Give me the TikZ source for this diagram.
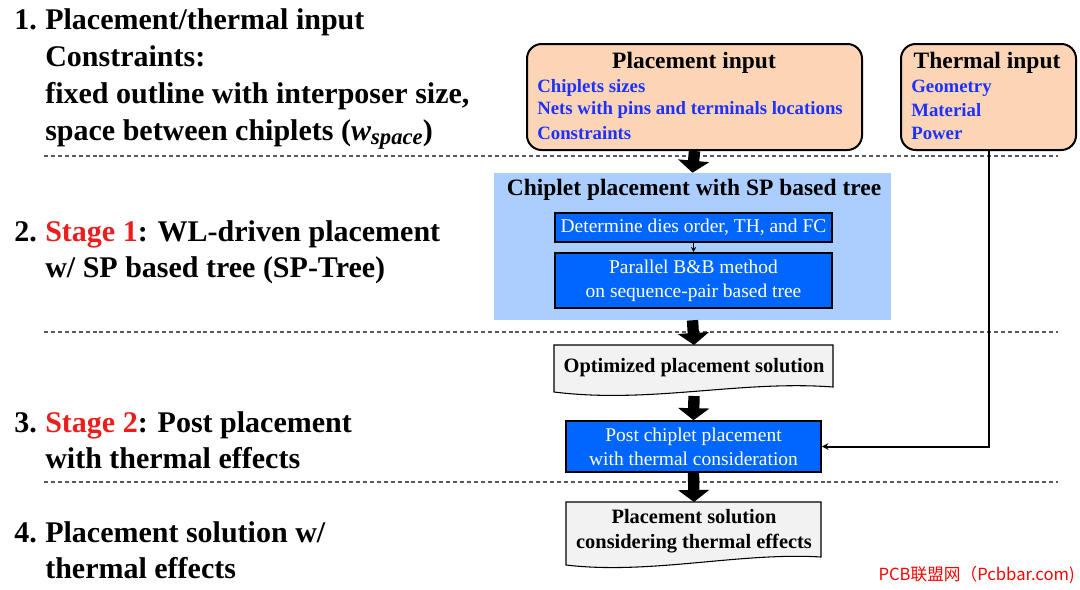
\documentclass[tikz,border=0pt]{standalone}
\usepackage{fontspec}
\setmainfont{Liberation Serif}
\newfontfamily\cjk{Noto Sans CJK SC}
\usetikzlibrary{arrows.meta}
\definecolor{peach}{RGB}{251,213,181}
\definecolor{spbg}{RGB}{172,206,255}
\definecolor{boxblue}{RGB}{0,102,255}
\definecolor{itemblue}{RGB}{30,50,255}
\definecolor{stagered}{RGB}{235,30,30}
\definecolor{docgray}{RGB}{242,242,242}
\definecolor{dashgray}{RGB}{90,90,90}
\begin{document}
\begin{tikzpicture}[x=0.75pt,y=-0.75pt,
  lefttext/.style={anchor=base west,inner sep=0pt,font=\fontsize{22.5}{27}\selectfont\bfseries},
  inputbox/.style={draw=black,line width=1.5pt,fill=peach,rounded corners=11pt,minimum height=79.5pt},
  inputtitle/.style={inner sep=0pt,font=\fontsize{17.6}{21}\selectfont\bfseries},
  item/.style={anchor=west,inner sep=0pt,text=itemblue,font=\fontsize{14.1}{17}\selectfont\bfseries},
  procbox/.style={draw=black,line width=1.2pt,fill=boxblue,text=white,align=center,inner sep=0pt,font=\fontsize{14.6}{18}\selectfont},
  doctext/.style={inner sep=0pt,align=center,font=\fontsize{15.3}{18.6}\selectfont\bfseries},
  docshape/.style={draw=black,line width=0.8pt,fill=docgray},
  sep/.style={draw=dashgray,line width=0.8pt,dash pattern=on 3pt off 2.2pt},
  bigarrow/.style={draw=black,line width=8.5pt,-{Triangle[width=23pt,length=9pt]}},
  thinarrow/.style={draw=black,line width=1.5pt,-{Stealth[length=5pt,width=5pt]}}
]
\useasboundingbox (0,0) rectangle (1080,589);

% dashed separators
\coordinate (s1l) at (44,156); \coordinate (s1r) at (1058,156);
\coordinate (s2l) at (44,332); \coordinate (s2r) at (1058,332);
\coordinate (s3l) at (44,482); \coordinate (s3r) at (1058,482);
\draw[sep] (s1l) -- (s1r);
\draw[sep] (s2l) -- (s2r);
\draw[sep] (s3l) -- (s3r);

% left text
\node[lefttext] (n1) at (14,29) {1.};
\node[lefttext] (l1a) at (45,29) {Placement/thermal input};
\node[lefttext] (l1b) at (45,66) {Constraints:};
\node[lefttext] (l1c) at (45,103) {fixed outline with interposer size,};
\node[lefttext] (l1d) at (45,140) {space between chiplets (\textit{w}\raisebox{-0.35ex}{\fontsize{17}{20}\selectfont\textit{space}})};
\node[lefttext] (n2) at (14,241) {2.};
\node[lefttext] (l2a) at (45,241) {\textcolor{stagered}{Stage 1}: WL-driven placement};
\node[lefttext] (l2b) at (45,277) {w/ SP based tree (SP-Tree)};
\node[lefttext] (n3) at (14,432) {3.};
\node[lefttext] (l3a) at (45,432) {\textcolor{stagered}{Stage 2}: Post placement};
\node[lefttext] (l3b) at (45,468) {with thermal effects};
\node[lefttext] (n4) at (14,542) {4.};
\node[lefttext] (l4a) at (45,542) {Placement solution w/};
\node[lefttext] (l4b) at (45,578) {thermal effects};

% input boxes
\node[inputbox,minimum width=251.25pt] (pin) at (694.5,97) {};
\node[inputtitle] (pint) at (694,63) {Placement input};
\node[item] (pi1) at (537,88) {Chiplets sizes};
\node[item] (pi2) at (537,110) {Nets with pins and terminals locations};
\node[item] (pi3) at (537,133) {Constraints};

\node[inputbox,minimum width=131.25pt] (tin) at (988.5,97) {};
\node[inputtitle] (tint) at (987,63) {Thermal input};
\node[item] (ti1) at (911,88) {Geometry};
\node[item] (ti2) at (911,110) {Material};
\node[item] (ti3) at (911,133) {Power};

% SP region
\node[fill=spbg,minimum width=297.75pt,minimum height=110.25pt,inner sep=0pt] (sp) at (692.5,246.5) {};
\node[inputtitle] (spt) at (694,190) {Chiplet placement with SP based tree};
\node[procbox,minimum width=207.75pt,minimum height=21.75pt] (b1) at (693.5,227.5) {Determine dies order, TH, and FC};
\node[procbox,minimum width=207.75pt,minimum height=41.25pt] (b2) at (693.5,280.5) {Parallel B\&B method\\on sequence-pair based tree};
\draw[draw=black,line width=0.8pt,-{Stealth[length=4pt,width=4pt]}] (b1) -- (b2);

% optimized placement solution (document shape)
\coordinate (o1) at (554,345); \coordinate (o2) at (833,345);
\coordinate (o3) at (833,387); \coordinate (o4) at (554,392);
\draw[docshape] (o1) -- (o2) -- (o3) .. controls (740,380) and (650,404) .. (o4) -- cycle;
\node[doctext] (opt) at (694,368) {Optimized placement solution};
\coordinate (optb) at (694,396);

% post placement
\node[procbox,minimum width=191.25pt,minimum height=38.25pt] (post) at (693.5,446.5) {Post chiplet placement\\with thermal consideration};

% final solution (document shape)
\coordinate (f1) at (566,502); \coordinate (f2) at (821,502);
\coordinate (f3) at (821,557); \coordinate (f4) at (566,565);
\draw[docshape] (f1) -- (f2) -- (f3) .. controls (740,552) and (650,575) .. (f4) -- cycle;
\node[doctext] (fin) at (694,531) {Placement solution\\considering thermal effects};
\coordinate (fint) at (694,502);

% big arrows
\draw[bigarrow] (pin.south) -- (sp.north);
\draw[bigarrow] (sp.south) -- (o1 -| opt);
\draw[bigarrow] (optb) -- (post.north);
\draw[bigarrow] (post.south) -- (fint);

% thermal connector
\draw[thinarrow] (tin.south) -- (tin.south |- post.east) -- (post.east);

% watermark
\node[inner sep=0pt,anchor=east,text=red,font=\cjk\fontsize{12.5}{15}\selectfont] (wm) at (1075,575) {PCB联盟网（Pcbbar.com)};
\end{tikzpicture}
\end{document}
